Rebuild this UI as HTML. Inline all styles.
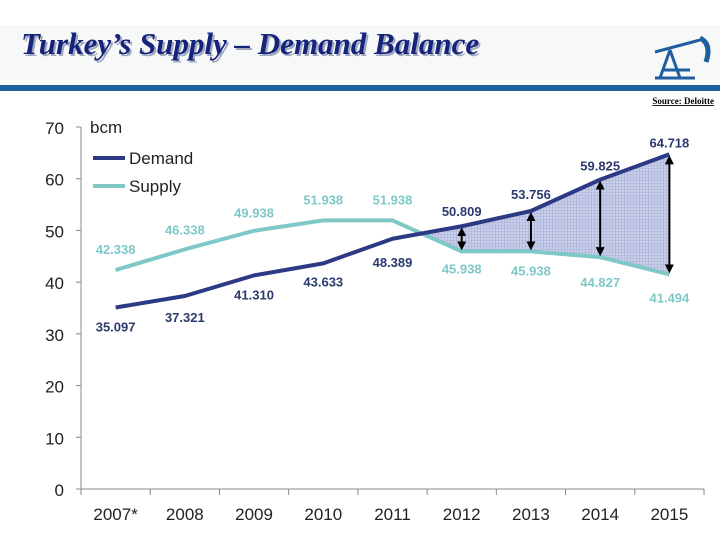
<!DOCTYPE html>
<html><head><meta charset="utf-8">
<style>
body{margin:0;width:720px;height:540px;background:#fff;overflow:hidden;font-family:"Liberation Sans",sans-serif}
</style></head>
<body>
<svg width="720" height="540">
<defs>
<pattern id="grid" width="3" height="3" patternUnits="userSpaceOnUse">
<rect width="3" height="3" fill="#c9cfe8"/>
<path d="M0 0H3M0 0V3" stroke="#8a94c8" stroke-width="0.6"/>
</pattern>
<marker id="ah" markerUnits="userSpaceOnUse" markerWidth="9" markerHeight="9" refX="5" refY="4.5" orient="auto-start-reverse"><path d="M0 0L9 4.5L0 9z" fill="#000"/></marker>
</defs>
<rect x="0" y="25" width="720" height="60" fill="#f7f8f8"/>
<rect x="0" y="85" width="720" height="6" fill="#1f5f9f"/>
<text x="23" y="56" font-family="Liberation Serif,serif" font-style="italic" font-weight="bold" font-size="31" fill="#a0a8c0">Turkey’s Supply – Demand Balance</text>
<text x="21" y="54" font-family="Liberation Serif,serif" font-style="italic" font-weight="bold" font-size="31" fill="#16237a">Turkey’s Supply – Demand Balance</text>
<g fill="none" stroke="#1f5f9f" stroke-width="3">
<path d="M655 52L700 40"/><path d="M670 50L660 78M670 50L680 78M655 78H695M662 70H690"/>
<path d="M700 38Q712 44 706 62" stroke-width="5"/>
</g>
<text x="714" y="104" text-anchor="end" font-family="Liberation Serif,serif" font-weight="bold" font-size="9" text-decoration="underline">Source: Deloitte</text>
<g id="chart"></g>
</svg>
<script>
const categories=["2007*","2008","2009","2010","2011","2012","2013","2014","2015"];
const demand=[35.097,37.321,41.310,43.633,48.389,50.809,53.756,59.825,64.718];
const supply=[42.338,46.338,49.938,51.938,51.938,45.938,45.938,44.827,41.494];
const yTicks=[0,10,20,30,40,50,60,70];
const dLabelDy=[19,21,19,18,23,-15,-17,-14,-12];
const sLabelDy=[-21,-20,-18,-21,-21,17,19,25,23];
const ns="http://www.w3.org/2000/svg";
const g=document.getElementById('chart');
const x0=81,x1=704,y0=489,y1=127,step=(x1-x0)/categories.length;
const X=i=>x0+step*(i+0.5);
const Y=v=>y0-(v/70)*(y0-y1);
function mk(t,a,p){const e=document.createElementNS(ns,t);for(const k in a)e.setAttribute(k,a[k]);(p||g).appendChild(e);return e;}
let e=mk('line',{x1:x0,y1:y1,x2:x0,y2:y0,stroke:'#888'});


e=mk('line',{x1:x0,y1:y0,x2:x1,y2:y0,stroke:'#888'});


yTicks.forEach(v=>{
 const t=mk('line',{x1:x0-5,y1:Y(v),x2:x0,y2:Y(v),stroke:'#888'});
 
 
 const l=mk('text',{x:64,y:Y(v)+7,'text-anchor':'end','font-size':17,fill:'#222'});l.textContent=v;
 
 
});
for(let i=0;i<=categories.length;i++){
 const t=mk('line',{x1:x0+step*i,y1:y0,x2:x0+step*i,y2:y0+6,stroke:'#888'});
 
 
}
categories.forEach((c,i)=>{
 const l=mk('text',{x:X(i),y:520,'text-anchor':'middle','font-size':17,fill:'#222'});l.textContent=c;
 
 
});
let u=mk('text',{x:90,y:133,'font-size':17,fill:'#222'});u.textContent='bcm';


// gap area from crossing between 2011 and 2012
const d0=demand[4]-supply[4],d1=demand[5]-supply[5];
const f=d0<0?(-d0)/(d1-d0):0;
const xc=X(4)+step*f, vc=demand[4]+(demand[5]-demand[4])*f;
let pts=[[xc,Y(vc)]];
for(let i=5;i<9;i++)pts.push([X(i),Y(demand[i])]);
for(let i=8;i>=5;i--)pts.push([X(i),Y(supply[i])]);
e=mk('polygon',{points:pts.map(p=>p.join(',')).join(' '),fill:'url(#grid)'});


function line(arr,col,name){
 const l=mk('polyline',{points:arr.map((v,i)=>X(i)+','+Y(v)).join(' '),fill:'none',stroke:col,'stroke-width':4,'stroke-linejoin':'round'});
 
 
}
line(supply,'#7fc8c8','supply-line');
line(demand,'#2c3a86','demand-line');
for(let i=5;i<9;i++){
 const a=mk('line',{x1:X(i),y1:Y(demand[i])+5,x2:X(i),y2:Y(supply[i])-5,stroke:'#000','stroke-width':2,'marker-start':'url(#ah)','marker-end':'url(#ah)'});
 
 
}
demand.forEach((v,i)=>{
 const l=mk('text',{x:X(i),y:Y(v)+dLabelDy[i]+5,'text-anchor':'middle','font-size':13,'font-weight':'bold',fill:'#2c3a6e'});
 l.textContent=v.toFixed(3);
 
 
});
supply.forEach((v,i)=>{
 const l=mk('text',{x:X(i),y:Y(v)+sLabelDy[i]+5,'text-anchor':'middle','font-size':13,'font-weight':'bold',fill:'#7fc8c8'});
 l.textContent=v.toFixed(3);
 
 
});
e=mk('line',{x1:93,y1:158,x2:125,y2:158,stroke:'#2c3a86','stroke-width':4});


e=mk('text',{x:129,y:164,'font-size':17,fill:'#222'});e.textContent='Demand';


e=mk('line',{x1:93,y1:186,x2:125,y2:186,stroke:'#7fc8c8','stroke-width':4});


e=mk('text',{x:129,y:192,'font-size':17,fill:'#222'});e.textContent='Supply';


</script>
</body></html>
